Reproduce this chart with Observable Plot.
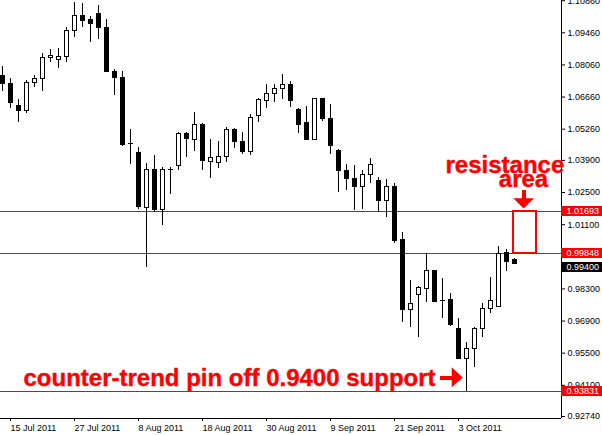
<!DOCTYPE html>
<html><head><meta charset="utf-8">
<script src="https://cdn.jsdelivr.net/npm/d3@7"></script>
<script src="https://cdn.jsdelivr.net/npm/@observablehq/plot@0.6"></script>
<style>html,body{margin:0;padding:0;background:#fff;overflow:hidden}</style>
</head><body><div id="chart"></div>
<script>
// Daily candles (trading days)
const dates = [
"2011-07-14","2011-07-15","2011-07-18","2011-07-19","2011-07-20","2011-07-21","2011-07-22",
"2011-07-25","2011-07-26","2011-07-27","2011-07-28","2011-07-29",
"2011-08-01","2011-08-02","2011-08-03","2011-08-04","2011-08-05",
"2011-08-08","2011-08-09","2011-08-10","2011-08-11","2011-08-12",
"2011-08-15","2011-08-16","2011-08-17","2011-08-18","2011-08-19",
"2011-08-22","2011-08-23","2011-08-24","2011-08-25","2011-08-26",
"2011-08-29","2011-08-30","2011-08-31","2011-09-01","2011-09-02",
"2011-09-05","2011-09-06","2011-09-07","2011-09-08","2011-09-09",
"2011-09-12","2011-09-13","2011-09-14","2011-09-15","2011-09-16",
"2011-09-19","2011-09-20","2011-09-21","2011-09-22","2011-09-23",
"2011-09-26","2011-09-27","2011-09-28","2011-09-29","2011-09-30",
"2011-10-03","2011-10-04","2011-10-05","2011-10-06","2011-10-07",
"2011-10-10","2011-10-11","2011-10-12"];
const open = [1.0756,1.0721,1.0625,1.0604,1.0728,1.0744,1.0837,1.0828,1.0840,1.0955,1.1017,1.1000,1.1026,1.0968,1.0777,1.0751,1.0462,1.0423,1.0183,1.0349,1.0175,1.0349,1.0366,1.0507,1.0478,1.0546,1.0384,1.0380,1.0404,1.0523,1.0472,1.0426,1.0583,1.0648,1.0678,1.0700,1.0719,1.0610,1.0551,1.0478,1.0658,1.0571,1.0429,1.0345,1.0311,1.0273,1.0325,1.0302,1.0215,1.0276,1.0041,0.9739,0.9804,0.9831,0.9910,0.9776,0.9780,0.9656,0.9526,0.9569,0.9656,0.9743,0.9751,0.9987,0.9956];
const high = [1.0799,1.0747,1.0655,1.0738,1.0759,1.0854,1.0873,1.0876,1.0968,1.1077,1.1072,1.1017,1.1065,1.1004,1.0785,1.0777,1.0525,1.0446,1.0375,1.0411,1.0360,1.0360,1.0513,1.0512,1.0599,1.0549,1.0481,1.0472,1.0532,1.0528,1.0512,1.0590,1.0661,1.0721,1.0721,1.0764,1.0732,1.0617,1.0625,1.0659,1.0659,1.0632,1.0436,1.0372,1.0366,1.0346,1.0397,1.0314,1.0307,1.0289,1.0077,0.9867,0.9842,0.9983,0.9912,0.9874,0.9809,0.9700,0.9597,0.9663,0.9766,0.9881,1.0013,1.0003,0.9964];
const low = [1.0692,1.0617,1.0556,1.0596,1.0709,1.0692,1.0818,1.0790,1.0818,1.0927,1.0970,1.0905,1.0918,1.0772,1.0674,1.0452,1.0373,1.0177,0.9925,1.0163,1.0108,1.0241,1.0348,1.0404,1.0430,1.0347,1.0312,1.0356,1.0381,1.0443,1.0417,1.0413,1.0556,1.0617,1.0644,1.0657,1.0622,1.0508,1.0477,1.0477,1.0561,1.0417,1.0251,1.0259,1.0172,1.0176,1.0291,1.0164,1.0143,1.0029,0.9685,0.9663,0.9620,0.9772,0.9772,0.9700,0.9668,0.9524,0.9383,0.9488,0.9620,0.9724,0.9748,0.9906,0.9935];
const close = [1.0724,1.0639,1.0604,1.0728,1.0746,1.0837,1.0846,1.0841,1.0955,1.1017,1.0997,1.0983,1.0966,1.0774,1.0748,1.0459,1.0463,1.0186,1.0349,1.0172,1.0349,1.0350,1.0506,1.0482,1.0545,1.0387,1.0401,1.0406,1.0523,1.0469,1.0426,1.0576,1.0654,1.0680,1.0702,1.0719,1.0648,1.0543,1.0478,1.0658,1.0570,1.0452,1.0343,1.0308,1.0273,1.0327,1.0368,1.0215,1.0276,1.0038,0.9736,0.9765,0.9833,0.9910,0.9775,0.9777,0.9671,0.9526,0.9569,0.9656,0.9743,0.9777,0.9983,0.9946,0.9940];

// Axes
const yTicks = [1.1086,1.0946,1.0806,1.0666,1.0526,1.0390,1.0250,1.0110,0.9830,0.9690,0.9550,0.9410,0.9274];
const xTickDates = ["2011-07-15","2011-07-27","2011-08-08","2011-08-18","2011-08-30","2011-09-09","2011-09-21","2011-10-03"];
const yDomain = [0.92654, 1.10867];
const xDomain = [-0.25, 69.875];

// Horizontal levels and price labels
const levels = [1.01693, 0.99848, 0.93831];
const redLabels = [1.01693, 0.99848, 0.93831];
const bidLabel = [0.99400];

// Annotations (data units: bar index, price)
const resistanceBox = [{x1: 63.84, x2: 66.75, y1: 1.01693, y2: 0.99848}];
const downShaft = {x: 65.21, y1: 1.02600, y2: 1.02200};
const downHead = [{x: 63.91, base: 1.02227, tip: 1.02227}, {x: 65.21, base: 1.02227, tip: 1.01780}, {x: 66.51, base: 1.02227, tip: 1.02227}];
const rightShaft = {y: 0.94419, x1: 54.75, x2: 56.4};
const rightHead = [{y: 0.94863, base: 56.21, tip: 56.21}, {y: 0.94419, base: 56.21, tip: 57.59}, {y: 0.93992, base: 56.21, tip: 56.21}];
const notes = [
  {text: "resistance", x: 55.375, y: 1.03695},
  {text: "area", x: 62.04, y: 1.03068},
  {text: "counter-trend pin off 0.9400 support", x: 2.625, y: 0.94384}
];

const RED = "#ff0000";
const parse = d3.utcParse("%Y-%m-%d");
const fmtDate = d3.utcFormat("%-d %b %Y");
const candles = dates.map((d, k) => ({k, date: d, open: open[k], high: high[k], low: low[k], close: close[k]}));
const xTicks = xTickDates.map(d => dates.indexOf(d));
const xMax = xDomain[1];
const f5 = d3.format(".5f");
const crisp = {shapeRendering: "crispEdges"};

const chart = Plot.plot({
  width: 602, height: 435,
  marginTop: 0, marginRight: 41, marginBottom: 17, marginLeft: 0,
  style: {fontFamily: "'Liberation Sans', Arial, sans-serif", fontSize: "9px", background: "#fff", color: "#000", overflow: "visible"},
  x: {type: "linear", domain: xDomain},
  y: {type: "linear", domain: yDomain},
  marks: [
    Plot.ruleY(levels, {stroke: RED, strokeWidth: 1, ...crisp}),
    Plot.ruleX(candles, {x: "k", y1: "low", y2: "high", stroke: "#000", ...crisp}),
    Plot.rect(candles, {x1: d => d.k - 0.25, x2: d => d.k + 0.25, y1: "open", y2: "close",
      fill: d => d.close < d.open ? "#000" : "#fff", stroke: "#000", strokeWidth: 1, ...crisp}),
    Plot.ruleY([yDomain[0]], {stroke: "#000", ...crisp}),
    Plot.ruleX([xDomain[1]], {stroke: "#000", ...crisp}),
    Plot.axisY({anchor: "right", ticks: yTicks, tickFormat: f5, tickSize: 3, tickPadding: 3, label: null}),
    Plot.axisX({anchor: "bottom", ticks: xTicks, tickFormat: k => fmtDate(parse(dates[k])), tickSize: 3, tickPadding: 3, textAnchor: "start", dx: 0, label: null}),
    Plot.ruleY(redLabels, {x1: xMax, x2: xMax + 6, stroke: RED, strokeWidth: 10, ...crisp}),
    Plot.text(redLabels, {y: d => d, x: xMax, text: d => f5(d), fill: "#fff", textAnchor: "start", dx: 5}),
    Plot.ruleY(bidLabel, {x1: xMax, x2: xMax + 6, stroke: "#000", strokeWidth: 10, dy: 3, ...crisp}),
    Plot.text(bidLabel, {y: d => d, x: xMax, text: d => f5(d), fill: "#fff", textAnchor: "start", dx: 5, dy: 3}),
    Plot.rect(resistanceBox, {x1: "x1", x2: "x2", y1: "y1", y2: "y2", fill: "none", stroke: RED, strokeWidth: 2, ...crisp}),
    Plot.ruleX([downShaft], {x: "x", y1: "y1", y2: "y2", stroke: RED, strokeWidth: 4, ...crisp}),
    Plot.areaY(downHead, {x: "x", y1: "base", y2: "tip", fill: RED}),
    Plot.ruleY([rightShaft], {y: "y", x1: "x1", x2: "x2", stroke: RED, strokeWidth: 4, ...crisp}),
    Plot.areaX(rightHead, {y: "y", x1: "base", x2: "tip", fill: RED}),
    Plot.text(notes, {x: "x", y: "y", text: "text", fill: RED, stroke: RED, strokeWidth: 0.4, fontSize: 24, fontWeight: "bold", textAnchor: "start",
      fontFamily: "'Liberation Sans', Arial, sans-serif"})
  ]
});
document.getElementById("chart").appendChild(chart);
</script></body></html>
